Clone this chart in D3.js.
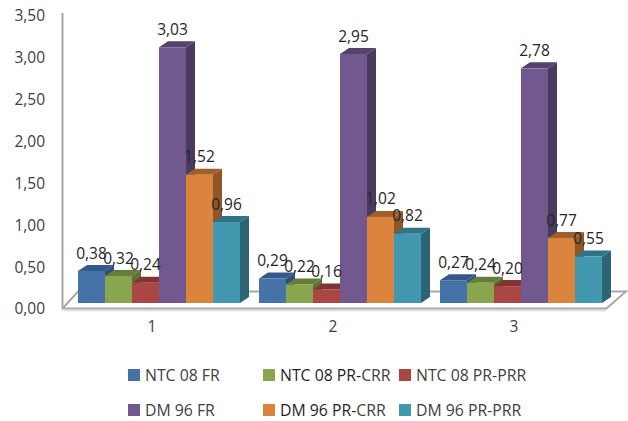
<!DOCTYPE html>
<html>
<head>
<meta charset="utf-8">
<script src="https://cdnjs.cloudflare.com/ajax/libs/d3/7.8.5/d3.min.js"></script>
<style>
  html, body { margin: 0; padding: 0; background: #fff; }
  svg { display: block; font-family: "Open Sans", sans-serif; }
</style>
</head>
<body>
<svg id="chart" width="628" height="421"></svg>
<script>
const groups = ["1", "2", "3"];
const seriesNames = ["NTC 08 FR", "NTC 08 PR-CRR", "NTC 08 PR-PRR", "DM 96 FR", "DM 96 PR-CRR", "DM 96 PR-PRR"];
const ntcFr = [0.38, 0.29, 0.27];
const ntcCrr = [0.32, 0.22, 0.24];
const ntcPrr = [0.24, 0.16, 0.20];
const dmFr = [3.03, 2.95, 2.78];
const dmCrr = [1.52, 1.02, 0.77];
const dmPrr = [0.96, 0.82, 0.55];
const seriesValues = [ntcFr, ntcCrr, ntcPrr, dmFr, dmCrr, dmPrr];
const tickValues = [0, 0.5, 1, 1.5, 2, 2.5, 3, 3.5];
const frontColors = ["#4572a7", "#89a54e", "#aa4643", "#71588f", "#db843d", "#4198af"];
const topColors = ["#35588a", "#667c3a", "#7f3432", "#54416c", "#a0602c", "#2f7386"];
const sideColors = ["#2f5079", "#5c7034", "#70302e", "#4b3a60", "#90562a", "#2b6573"];

const svg = d3.select("#chart");
const depthX = 9, depthY = 6;
const fmt = v => d3.format(".2f")(v).replace(".", ",");

// Bars stand on the floor, a little behind the front edge of the plot box.
const y = d3.scaleLinear().domain([0, 3.5]).range([303, 7.6]);
const yTicks = d3.scaleLinear().domain([0, 3.5]).range([309, 16]);
const x0 = d3.scaleBand().domain(groups).range([68.5, 611.5]);
const x1 = d3.scaleBand().domain(d3.range(6)).range([9.5, 171.5]);

// Back wall edge and floor outline
const frame = svg.append("g").attr("fill", "none").attr("stroke", "#a8a8a8").attr("stroke-width", 2);
frame.append("path").attr("d", "M62.5,13V308.5H606.5L626,291.5H78L62.5,308.5").attr("stroke-linejoin", "miter");
svg.append("path").attr("d", "M64,310.5H606").attr("stroke", "#dcdcdc").attr("stroke-width", 1.5);

// Value axis
const yAxis = svg.append("g").attr("transform", "translate(45,0)")
  .call(d3.axisLeft(yTicks).tickValues(tickValues).tickSize(0).tickPadding(0).tickFormat(fmt));
yAxis.select(".domain").remove();
yAxis.selectAll("text").attr("font-size", 15.5).attr("fill", "#404040").attr("font-family", "Open Sans");

// Category axis
const xAxis = svg.append("g").attr("transform", "translate(-7,321)")
  .call(d3.axisBottom(x0).tickSize(0).tickPadding(0));
xAxis.select(".domain").remove();
xAxis.selectAll("text").attr("font-size", 15.5).attr("fill", "#404040").attr("font-family", "Open Sans");

// Bars: drawn left to right so each front face covers its neighbour's side
groups.forEach((g, gi) => {
  seriesValues.forEach((vals, si) => {
    const v = vals[gi];
    const l = x0(g) + x1(si), r = l + x1.bandwidth();
    const top = y(v), base = y(0);
    const bar = svg.append("g").attr("class", "bar");
    bar.append("path").attr("fill", sideColors[si])
      .attr("d", `M${r},${top}L${r + depthX},${top - depthY}V${base - depthY}L${r},${base}Z`);
    bar.append("path").attr("fill", topColors[si])
      .attr("d", `M${l},${top}L${l + depthX},${top - depthY}H${r + depthX}L${r},${top}Z`);
    bar.append("rect").attr("x", l).attr("y", top).attr("width", x1.bandwidth()).attr("height", base - top)
      .attr("fill", frontColors[si]);
  });
});

// Value labels sit above all bars
groups.forEach((g, gi) => {
  seriesValues.forEach((vals, si) => {
    const v = vals[gi];
    svg.append("text")
      .attr("x", x0(g) + x1(si) + x1.bandwidth() / 2)
      .attr("y", y(v) - 18)
      .attr("dy", "0.36em")
      .attr("text-anchor", "middle")
      .attr("font-size", 15.5)
      .attr("fill", "#262626")
      .text(fmt(v));
  });
});

// Legend, two rows of three
const legendCols = [128, 263, 399];
const legendRows = [375, 410];
seriesNames.forEach((name, i) => {
  const lx = legendCols[i % 3], ly = legendRows[Math.floor(i / 3)];
  svg.append("rect").attr("x", lx).attr("y", ly - 6).attr("width", 12).attr("height", 12).attr("fill", frontColors[i]);
  const t = svg.append("text").attr("x", lx + 17).attr("y", ly).attr("dy", "0.36em")
    .attr("font-size", 15.8).attr("fill", "#404040");
  const m = name.match(/^(.*PR-)(CRR)$/);
  if (m) {
    t.append("tspan").attr("fill", "#1f1f2a").attr("font-weight", 500).text(m[1]);
    t.append("tspan").text(m[2]);
  } else {
    t.text(name);
  }
});
</script>
</body>
</html>
